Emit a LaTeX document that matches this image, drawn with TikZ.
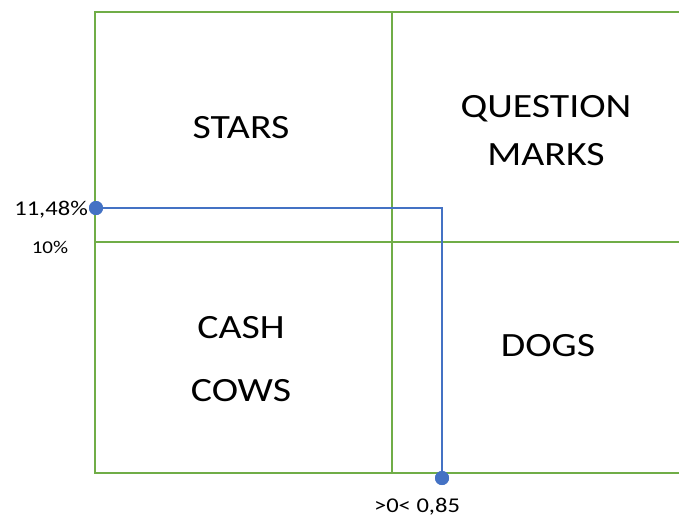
\documentclass[tikz,border=0pt]{standalone}
\usepackage{fontspec}
\setmainfont{Carlito}
\newfontfamily\wideft[FakeStretch=1.17]{Carlito}
\definecolor{gridgreen}{RGB}{112,173,71}
\definecolor{lineblue}{RGB}{68,114,196}
\begin{document}
\begin{tikzpicture}[x=1pt,y=-1pt,
  gridline/.style={draw=gridgreen,line width=1.6pt},
  conn/.style={draw=lineblue,line width=1.5pt},
  dot/.style={circle,fill=lineblue,inner sep=0pt,minimum size=14pt},
  big/.style={font=\wideft\fontsize{34}{40}\selectfont,inner sep=0pt,anchor=base},
  small/.style={font=\wideft\fontsize{21}{24}\selectfont,inner sep=0pt,anchor=base}]
\useasboundingbox (0,0) rectangle (679,517);
% grid
\coordinate (tl) at (95,12);
\coordinate (bl) at (95,473);
\coordinate (tr) at (679,12);
\coordinate (br) at (679,473);
\coordinate (ml) at (95,242);
\coordinate (mr) at (679,242);
\coordinate (vt) at (392,12);
\coordinate (vb) at (392,473);
\draw[gridline] (tr) -- (tl) -- (bl) -- (br);
\draw[gridline] (ml) -- (mr);
\draw[gridline] (vt) -- (vb);
% labels
\node[big] (stars) at (241,138) {STARS};
\node[big] (q) at (546,117) {QUESTION};
\node[big] (marks) at (546,165) {MARKS};
\node[big] (cash) at (241,338) {CASH};
\node[big] (cows) at (241,401) {COWS};
\node[big] (dogs) at (548,356) {DOGS};
% connector
\node[dot] (d1) at (96,208) {};
\node[dot] (d2) at (442,478) {};
\draw[conn] (d1.center) -| (d2.center);
\node[dot] at (96,208) {};
\node[dot] at (442,478) {};
\node[small,anchor=base east] (v1) at (88,215) {11,48\%};
\node[small,font=\wideft\fontsize{18}{20}\selectfont] (v2) at (50,253) {10\%};
\node[small] (v3) at (417,512) {>0< 0,85};
\end{tikzpicture}
\end{document}
